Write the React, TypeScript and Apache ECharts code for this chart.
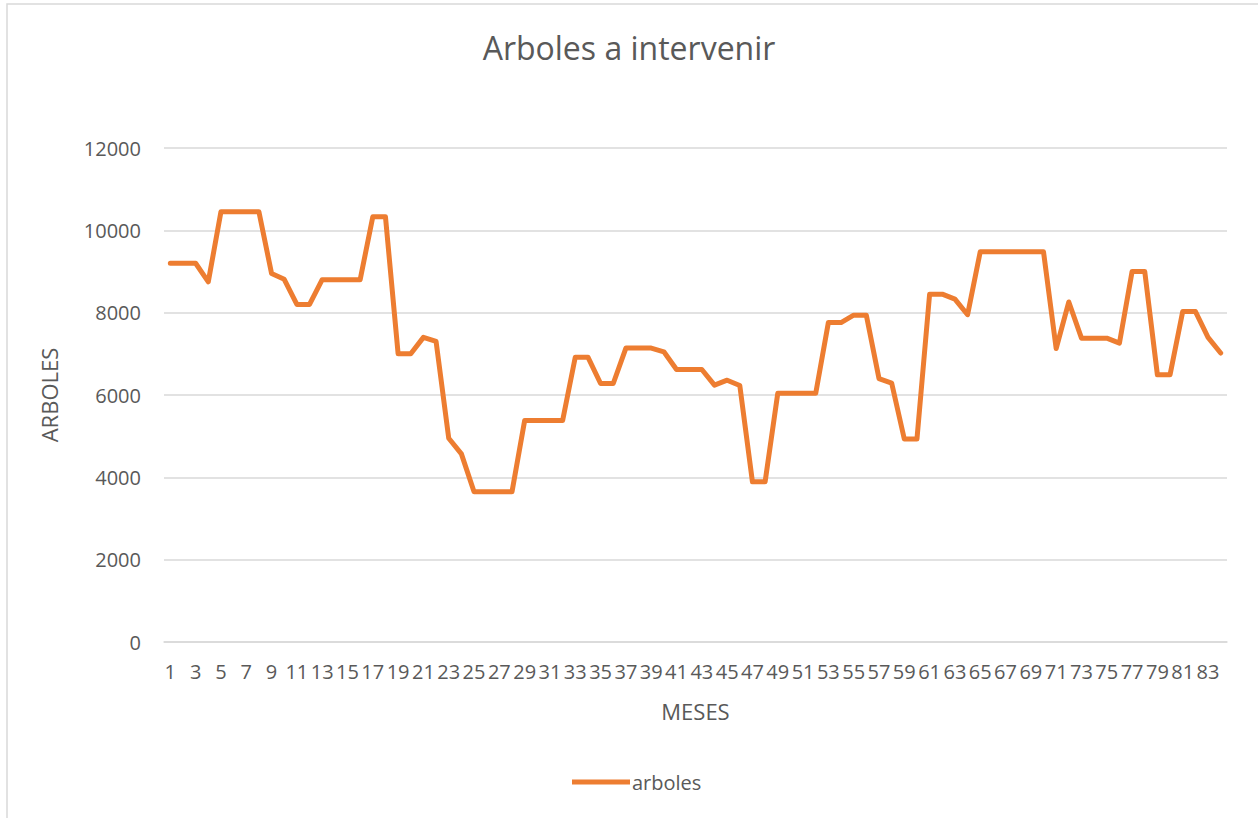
import React, { useEffect, useRef } from "react";
import * as echarts from "echarts";

const TITLE = "Arboles a intervenir";
const SERIES_NAME = "arboles";
const X_NAME = "MESES";
const Y_NAME = "ARBOLES";

const months: string[] = Array.from({ length: 84 }, (_, i) => String(i + 1));

const arboles: number[] = [
  9200, 9200, 9200, 8750, 10450, 10450, 10450, 10450, 8950, 8810,
  8200, 8200, 8800, 8800, 8800, 8800, 10330, 10330, 7000, 7000,
  7400, 7300, 4950, 4570, 3650, 3650, 3650, 3650, 5380, 5380,
  5380, 5380, 6920, 6920, 6280, 6280, 7140, 7140, 7140, 7050,
  6620, 6620, 6620, 6240, 6360, 6230, 3890, 3890, 6040, 6040,
  6040, 6040, 7760, 7760, 7940, 7940, 6400, 6290, 4930, 4930,
  8450, 8450, 8330, 7950, 9480, 9480, 9480, 9480, 9480, 9480,
  7130, 8260, 7380, 7380, 7380, 7260, 9000, 9000, 6490, 6490,
  8030, 8030, 7400, 7020,
];

const FONT = "'Open Sans', 'Noto Sans', sans-serif";
const TEXT = "#595959";
const GRID = "#d9d9d9";
const ORANGE = "#ED7D31";

export default function App() {
  const ref = useRef<HTMLDivElement>(null);

  useEffect(() => {
    document.body.style.margin = "0";
    if (!ref.current) return;
    const chart = echarts.init(ref.current, undefined, { renderer: "svg" });
    chart.setOption({
      animation: false,
      backgroundColor: "#ffffff",
      textStyle: { fontFamily: FONT },
      title: {
        text: TITLE,
        left: "center",
        top: 26,
        textStyle: { fontFamily: FONT, fontSize: 32, fontWeight: "normal", color: TEXT },
      },
      graphic: [
        {
          type: "rect",
          shape: { x: 7, y: 4, width: 1400, height: 1000 },
          style: { fill: "none", stroke: GRID, lineWidth: 1.5 },
          silent: true,
        },
      ],
      grid: { left: 164, right: 31, top: 148, bottom: 176 },
      legend: {
        data: [SERIES_NAME],
        icon: "rect",
        left: 567,
        top: 767,
        itemWidth: 58,
        itemHeight: 5,
        itemGap: 2,
        textStyle: { fontFamily: FONT, fontSize: 20, color: TEXT, padding: [0, 0, 0, -3] },
      },
      xAxis: {
        type: "category",
        data: months,
        boundaryGap: true,
        name: X_NAME,
        nameLocation: "middle",
        nameGap: 58,
        nameTextStyle: { fontFamily: FONT, fontSize: 22, color: TEXT },
        axisLine: { show: true, lineStyle: { color: GRID, width: 1.5 } },
        axisTick: { show: false },
        axisLabel: { interval: 1, margin: 19, fontFamily: FONT, fontSize: 20, color: TEXT },
      },
      yAxis: {
        type: "value",
        min: 0,
        max: 12000,
        interval: 2000,
        name: Y_NAME,
        nameLocation: "middle",
        nameRotate: 90,
        nameGap: 104,
        nameTextStyle: { fontFamily: FONT, fontSize: 22, color: TEXT },
        axisLine: { show: false },
        axisTick: { show: false },
        axisLabel: {
          margin: 23,
          fontFamily: FONT,
          fontSize: 20,
          color: TEXT,
          formatter: (v: number) => String(v),
        },
        splitLine: { lineStyle: { color: GRID, width: 1.5 } },
      },
      series: [
        {
          name: SERIES_NAME,
          type: "line",
          data: arboles,
          symbol: "none",
          lineStyle: { color: ORANGE, width: 5, cap: "round", join: "round" },
          itemStyle: { color: ORANGE },
        },
      ],
    });
    return () => chart.dispose();
  }, []);

  return <div ref={ref} style={{ width: 1258, height: 818 }} />;
}
